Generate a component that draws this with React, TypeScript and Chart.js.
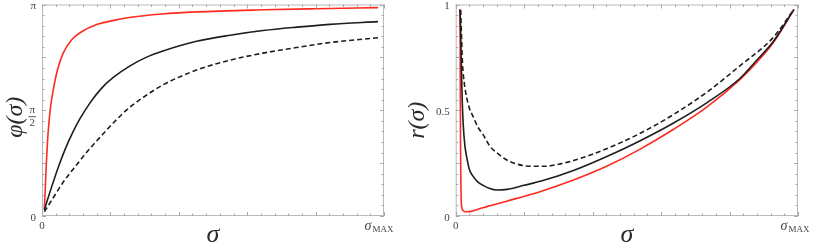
import React, { useEffect, useRef } from "react";
import { Chart, registerables } from "chart.js";

Chart.register(...registerables);

// ---------- Left panel: phi(sigma), values in units of pi, sigma in units of sigma_MAX ----------
const leftRedSigma = [0.007, 0.009, 0.012, 0.015, 0.018, 0.025, 0.034, 0.046, 0.063, 0.089, 0.117, 0.163, 0.214, 0.265, 0.356, 0.458, 0.662, 0.814, 1.0];
const leftRedPhi = [0.03, 0.1, 0.22, 0.31, 0.39, 0.51, 0.6, 0.69, 0.77, 0.835, 0.87, 0.905, 0.925, 0.94, 0.955, 0.965, 0.975, 0.98, 0.985];

const leftSolidSigma = [0.007, 0.025, 0.049, 0.07, 0.093, 0.113, 0.143, 0.175, 0.212, 0.262, 0.31, 0.36, 0.46, 0.56, 0.658, 0.759, 0.857, 1.0];
const leftSolidPhi = [0.03, 0.12, 0.233, 0.32, 0.4, 0.46, 0.535, 0.6, 0.655, 0.71, 0.75, 0.78, 0.826, 0.855, 0.877, 0.893, 0.906, 0.919];

const leftDashedSigma = [0.007, 0.031, 0.061, 0.102, 0.143, 0.183, 0.212, 0.262, 0.31, 0.36, 0.46, 0.56, 0.658, 0.759, 0.857, 1.0];
const leftDashedPhi = [0.02, 0.08, 0.155, 0.24, 0.32, 0.39, 0.44, 0.515, 0.57, 0.62, 0.69, 0.737, 0.77, 0.797, 0.82, 0.843];

// ---------- Right panel: r(sigma) ----------
const rightRedSigma = [0.0126, 0.0132, 0.0137, 0.0142, 0.0152, 0.0162, 0.0182, 0.0223, 0.0304, 0.0455, 0.0718, 0.101, 0.151, 0.249, 0.348, 0.446, 0.544, 0.644, 0.742, 0.84, 0.889, 0.939, 1.0];
const rightRedR = [0.977, 0.8, 0.55, 0.35, 0.18, 0.08, 0.04, 0.025, 0.02, 0.022, 0.035, 0.048, 0.07, 0.115, 0.17, 0.235, 0.315, 0.41, 0.515, 0.645, 0.725, 0.82, 0.977];

const rightSolidSigma = [0.0126, 0.0145, 0.0162, 0.0192, 0.0223, 0.0273, 0.0324, 0.0405, 0.0506, 0.0658, 0.0809, 0.101, 0.121, 0.152, 0.202, 0.253, 0.348, 0.445, 0.544, 0.644, 0.742, 0.84, 0.889, 0.941, 1.0];
const rightSolidR = [0.977, 0.88, 0.75, 0.55, 0.43, 0.33, 0.28, 0.22, 0.19, 0.16, 0.145, 0.13, 0.123, 0.126, 0.145, 0.165, 0.215, 0.28, 0.355, 0.44, 0.535, 0.65, 0.735, 0.83, 0.977];

const rightDashedSigma = [0.0148, 0.0172, 0.0202, 0.0253, 0.0324, 0.0405, 0.0516, 0.0658, 0.0809, 0.101, 0.121, 0.151, 0.182, 0.223, 0.263, 0.304, 0.348, 0.446, 0.544, 0.644, 0.742, 0.84, 0.939, 1.0];
const rightDashedR = [0.974, 0.85, 0.72, 0.63, 0.56, 0.51, 0.47, 0.42, 0.385, 0.33, 0.3, 0.265, 0.245, 0.235, 0.235, 0.245, 0.262, 0.318, 0.39, 0.48, 0.585, 0.71, 0.845, 0.977];

// Tick labels
const leftYTickValues = [0, 0.5, 1];
const leftYTickLabels = ["0", "π/2", "π"];
const rightYTickValues = [0, 0.5, 1];
const rightYTickLabels = ["0", "0.5", "1"];
const xTickValues = [0, 1];
const xTickLabels = ["0", "σMAX"];

const RED = "#ff2a1f";
const BLACK = "#1e1e1e";
const SERIF = "'Liberation Serif', 'DejaVu Serif', serif";

function pts(xs: number[], ys: number[]) {
  return xs.map((x, i) => ({ x, y: ys[i] }));
}

const frameDecor = {
  id: "frameDecor",
  afterDraw(chart: any, _args: any, opts: any) {
    const { ctx, chartArea: a, scales } = chart;
    const xs = scales.x;
    const ys = scales.y;
    ctx.save();
    // frame
    ctx.strokeStyle = "#b9b9b9";
    ctx.lineWidth = 1;
    ctx.strokeRect(a.left + 0.5, a.top + 0.5, a.right - a.left - 1, a.bottom - a.top - 1);
    // ticks
    ctx.strokeStyle = "#a8a8a8";
    ctx.beginPath();
    for (let k = 0; k <= 25; k++) {
      const v = xs.min + (k * (xs.max - xs.min)) / 25;
      const px = Math.round(xs.getPixelForValue(v)) + 0.5;
      const len = k % 5 === 0 ? 4 : 2.5;
      ctx.moveTo(px, a.bottom);
      ctx.lineTo(px, a.bottom - len);
      ctx.moveTo(px, a.top);
      ctx.lineTo(px, a.top + len);
    }
    for (let k = 0; k <= 20; k++) {
      const v = ys.min + (k * (ys.max - ys.min)) / 20;
      const py = Math.round(ys.getPixelForValue(v)) + 0.5;
      const len = k % 5 === 0 ? 4 : 2.5;
      ctx.moveTo(a.left, py);
      ctx.lineTo(a.left + len, py);
      ctx.moveTo(a.right, py);
      ctx.lineTo(a.right - len, py);
    }
    ctx.stroke();

    // y tick labels
    ctx.fillStyle = "#444";
    ctx.textAlign = "right";
    ctx.textBaseline = "middle";
    const yVals: number[] = opts.yValues;
    const yLabs: string[] = opts.yLabels;
    yVals.forEach((v, i) => {
      const py = ys.getPixelForValue(v) + 2;
      const lab = yLabs[i];
      const rx = a.left - 6;
      if (lab.includes("/")) {
        const [num, den] = lab.split("/");
        ctx.font = `11px ${SERIF}`;
        const w = Math.max(ctx.measureText(num).width, ctx.measureText(den).width) + 2;
        const cx = rx - w / 2;
        const by = py + 4;
        ctx.textAlign = "center";
        ctx.fillText(num, cx, by - 6);
        ctx.fillText(den, cx, by + 7);
        ctx.beginPath();
        ctx.strokeStyle = "#555";
        ctx.moveTo(rx - w, by + 0.5);
        ctx.lineTo(rx, by + 0.5);
        ctx.stroke();
        ctx.textAlign = "right";
      } else {
        ctx.font = `11px ${SERIF}`;
        ctx.fillText(lab, rx, py);
      }
    });

    // x tick labels
    const xVals: number[] = opts.xValues;
    const xLabs: string[] = opts.xLabels;
    xVals.forEach((v, i) => {
      const px = xs.getPixelForValue(v);
      const lab = xLabs[i];
      const yy = a.bottom + 10;
      if (lab.startsWith("σ")) {
        const main = "σ";
        const sub = lab.slice(1);
        ctx.font = `italic 14px ${SERIF}`;
        const w1 = ctx.measureText(main).width;
        ctx.font = `9px ${SERIF}`;
        const w2 = ctx.measureText(sub).width;
        const x0 = px + 1 - (w1 + w2 + 1) / 2;
        ctx.textAlign = "left";
        ctx.textBaseline = "alphabetic";
        ctx.font = `italic 14px ${SERIF}`;
        ctx.fillText(main, x0, yy + 4);
        ctx.font = `9px ${SERIF}`;
        ctx.fillText(sub, x0 + w1 + 1, yy + 6);
      } else {
        ctx.font = `11px ${SERIF}`;
        ctx.textAlign = "center";
        ctx.textBaseline = "middle";
        ctx.fillText(lab, px, yy);
      }
    });

    // axis titles
    ctx.fillStyle = "#2a2a2a";
    ctx.font = `italic 24px ${SERIF}`;
    ctx.textAlign = "center";
    ctx.textBaseline = "middle";
    ctx.save();
    ctx.translate(opts.titleX, (a.top + a.bottom) / 2 + opts.titleDy);
    ctx.rotate(-Math.PI / 2);
    ctx.fillText(opts.yTitle, 0, 0);
    ctx.restore();
    ctx.font = `italic 26px ${SERIF}`;
    ctx.fillText(opts.xTitle, (a.left + a.right) / 2, a.bottom + 19);
    ctx.restore();
  },
};

function makeConfig(
  red: { x: number; y: number }[],
  solid: { x: number; y: number }[],
  dashed: { x: number; y: number }[],
  xMax: number,
  padLeft: number,
  padRight: number,
  decor: any
): any {
  const line = (data: any[], color: string, dash: number[]) => ({
    data,
    borderColor: color,
    borderWidth: 1.6,
    borderDash: dash,
    pointRadius: 0,
    fill: false,
    cubicInterpolationMode: "monotone",
  });
  return {
    type: "line",
    data: {
      datasets: [line(dashed, BLACK, [5, 3]), line(solid, BLACK, []), line(red, RED, [])],
    },
    options: {
      animation: false,
      responsive: false,
      parsing: false,
      layout: { padding: { left: padLeft, right: padRight, top: 4.5, bottom: 31 } },
      plugins: { legend: { display: false }, tooltip: { enabled: false }, frameDecor: decor },
      scales: {
        x: { type: "linear", min: 0, max: xMax, display: false },
        y: { type: "linear", min: 0, max: 1, display: false },
      },
    },
    plugins: [frameDecor],
  };
}

export default function App() {
  const leftRef = useRef<HTMLCanvasElement>(null);
  const rightRef = useRef<HTMLCanvasElement>(null);

  useEffect(() => {
    const left = new Chart(
      leftRef.current!,
      makeConfig(
        pts(leftRedSigma, leftRedPhi),
        pts(leftSolidSigma, leftSolidPhi),
        pts(leftDashedSigma, leftDashedPhi),
        1.0179,
        42,
        23,
        {
          yValues: leftYTickValues,
          yLabels: leftYTickLabels,
          xValues: xTickValues,
          xLabels: xTickLabels,
          yTitle: "φ(σ)",
          xTitle: "σ",
          titleX: 16,
          titleDy: 7,
        }
      )
    );
    const right = new Chart(
      rightRef.current!,
      makeConfig(
        pts(rightRedSigma, rightRedR),
        pts(rightSolidSigma, rightSolidR),
        pts(rightDashedSigma, rightDashedR),
        1.0118,
        48.7,
        16,
        {
          yValues: rightYTickValues,
          yLabels: rightYTickLabels,
          xValues: xTickValues,
          xLabels: xTickLabels,
          yTitle: "r(σ)",
          xTitle: "σ",
          titleX: 11,
          titleDy: 10,
        }
      )
    );
    return () => {
      left.destroy();
      right.destroy();
    };
  }, []);

  return (
    <div style={{ position: "fixed", left: 0, top: 0, width: 814, height: 247, background: "#fff" }}>
      <canvas ref={leftRef} width={407} height={247} style={{ position: "absolute", left: 0, top: 0, width: 407, height: 247 }} />
      <canvas ref={rightRef} width={407} height={247} style={{ position: "absolute", left: 407, top: 0, width: 407, height: 247 }} />
    </div>
  );
}
